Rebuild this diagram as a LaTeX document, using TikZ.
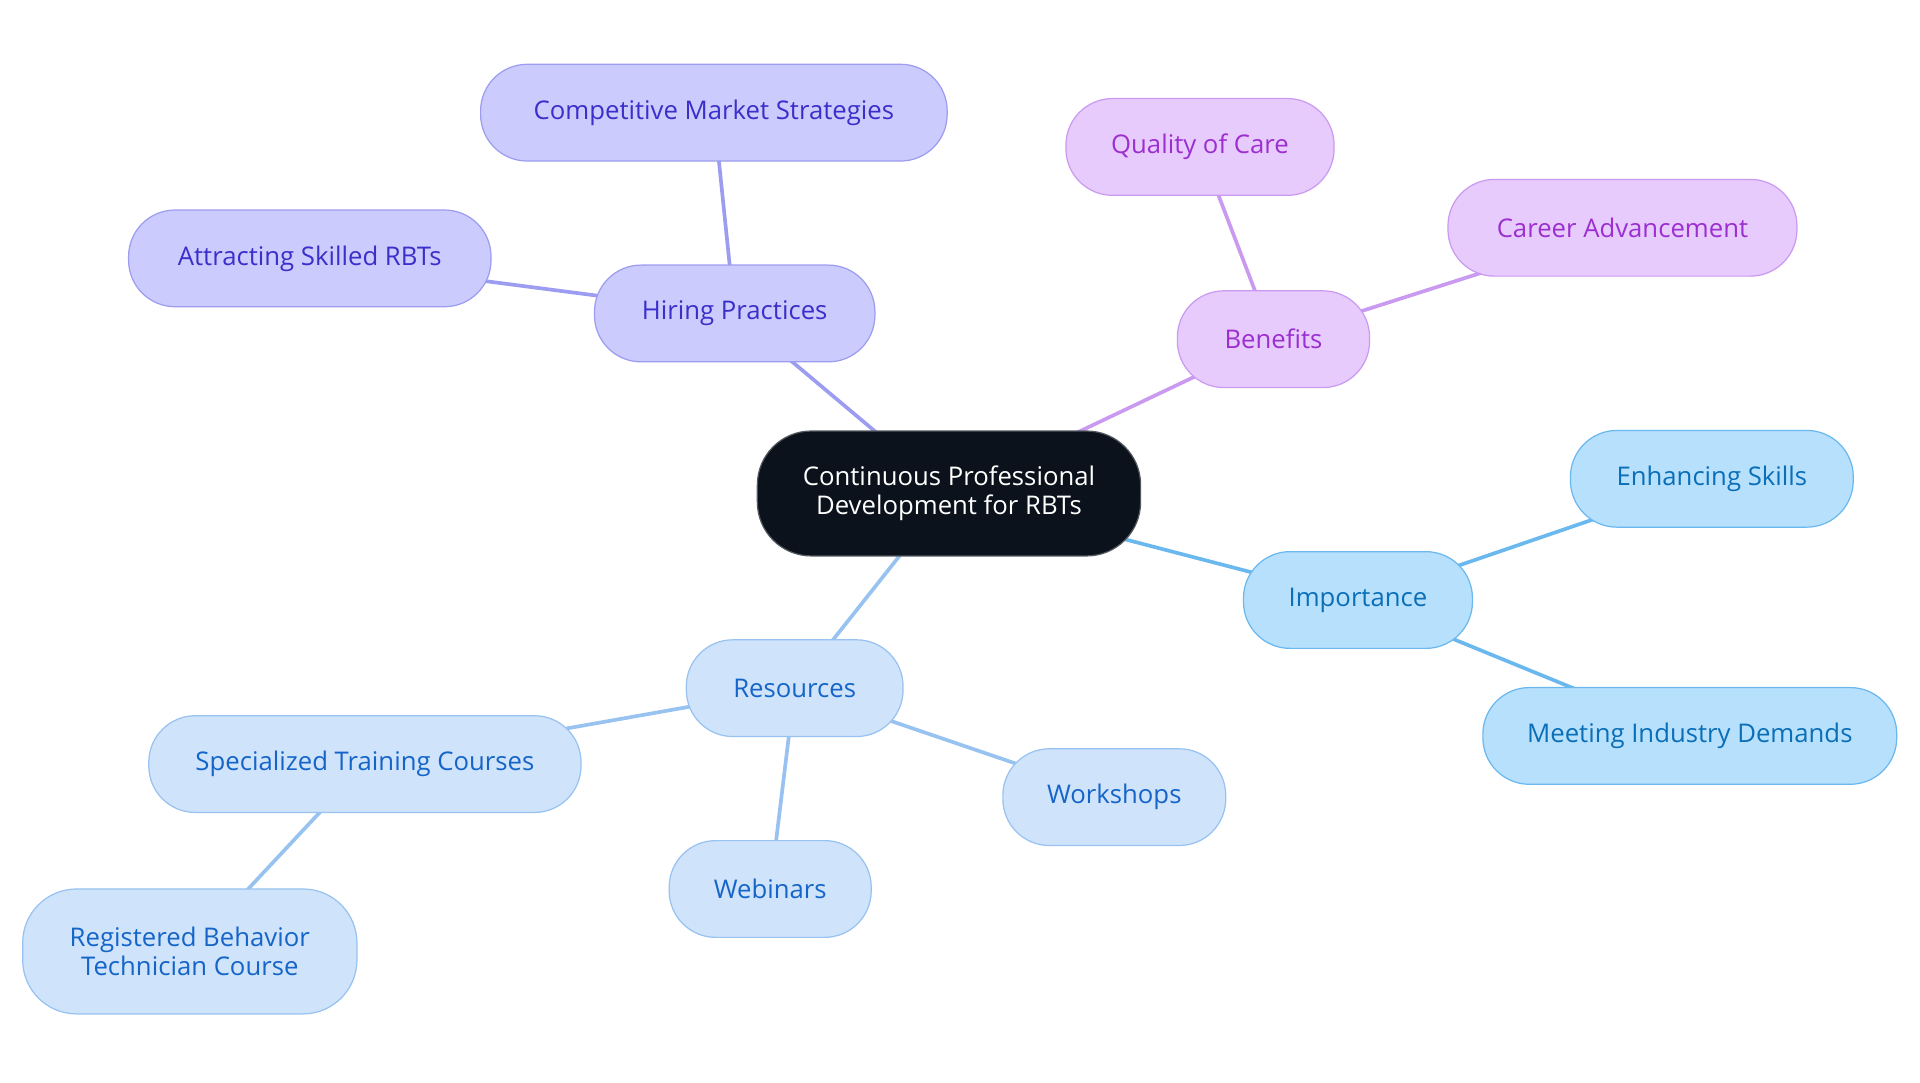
\documentclass[tikz,border=0pt]{standalone}
\usepackage{fontspec}
\setmainfont{Open Sans}
\usetikzlibrary{backgrounds}
\definecolor{hf}{HTML}{CBCBFD}\definecolor{hb}{HTML}{9C9CF0}\definecolor{ht}{HTML}{3B2FC9}
\definecolor{bf}{HTML}{E8CBFD}\definecolor{bb}{HTML}{C99AF0}\definecolor{bt}{HTML}{9B2FD0}
\definecolor{imf}{HTML}{B7E0FD}\definecolor{imb}{HTML}{6BB8EE}\definecolor{imt}{HTML}{0B6FB8}
\definecolor{rf}{HTML}{CFE3FB}\definecolor{rb}{HTML}{98C2F0}\definecolor{rt}{HTML}{1565C8}
\definecolor{cf}{HTML}{0B121B}
\tikzset{
 box/.style={rounded corners=19pt,line width=0.5pt,minimum height=39.5pt,align=center,font=\fontsize{10.5}{12}\selectfont,inner sep=0pt},
 hbox/.style={box,fill=hf,draw=hb,text=ht},
 bbox/.style={box,fill=bf,draw=bb,text=bt},
 ibox/.style={box,fill=imf,draw=imb,text=imt},
 rbox/.style={box,fill=rf,draw=rb,text=rt},
 hl/.style={draw=hb,line width=1.5pt},
 bl/.style={draw=bb,line width=1.5pt},
 il/.style={draw=imb,line width=1.5pt},
 rl/.style={draw=rb,line width=1.5pt},
}
\begin{document}
\begin{tikzpicture}[x=0.5pt,y=-0.5pt]
\useasboundingbox (0,0) rectangle (1568,884);
\node[box,fill=cf,draw=cf!70!white,text=white,minimum width=156.5pt,minimum height=51pt,rounded corners=22pt] (c) at (775,403) {Continuous Professional\\Development for RBTs};
\node[hbox,minimum width=114.5pt] (hp) at (600,256) {Hiring Practices};
\node[hbox,minimum width=190.5pt] (cms) at (583,92) {Competitive Market Strategies};
\node[hbox,minimum width=148pt] (asr) at (253,211) {Attracting Skilled RBTs};
\node[bbox,minimum width=78.5pt] (be) at (1040,277) {Benefits};
\node[bbox,minimum width=109.5pt] (qc) at (980,120) {Quality of Care};
\node[bbox,minimum width=142.5pt] (ca) at (1325,186) {Career Advancement};
\node[ibox,minimum width=93.5pt] (im) at (1109,490) {Importance};
\node[ibox,minimum width=115.5pt] (es) at (1398,391) {Enhancing Skills};
\node[ibox,minimum width=169pt] (mid) at (1380,601) {Meeting Industry Demands};
\node[rbox,minimum width=88.5pt] (re) at (649,562) {Resources};
\node[rbox,minimum width=176.5pt] (stc) at (298,624) {Specialized Training Courses};
\node[rbox,minimum width=82.5pt] (we) at (629,726) {Webinars};
\node[rbox,minimum width=91pt] (wo) at (910,651) {Workshops};
\node[rbox,minimum width=136.5pt,minimum height=51pt,rounded corners=22pt] (rbt) at (155,777) {Registered Behavior\\Technician Course};
\begin{scope}[on background layer]
\draw[hl] (c.center)--(hp.center); \draw[hl] (hp.center)--(cms.center); \draw[hl] (hp.center)--(asr.center);
\draw[bl] (c.center)--(be.center); \draw[bl] (be.center)--(qc.center); \draw[bl] (be.center)--(ca.center);
\draw[il] (c.center)--(im.center); \draw[il] (im.center)--(es.center); \draw[il] (im.center)--(mid.center);
\draw[rl] (c.center)--(re.center); \draw[rl] (re.center)--(stc.center); \draw[rl] (re.center)--(we.center); \draw[rl] (re.center)--(wo.center); \draw[rl] (stc.center)--(rbt.center);
\end{scope}
\end{tikzpicture}
\end{document}
